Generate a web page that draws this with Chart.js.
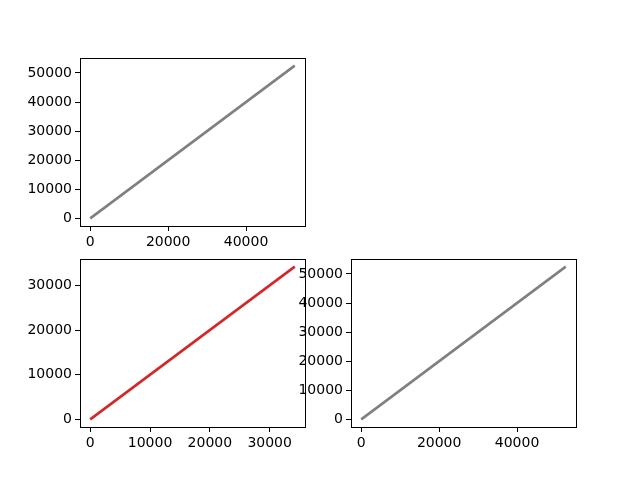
<!DOCTYPE html>
<html>
<head>
<meta charset="utf-8">
<script src="https://cdn.jsdelivr.net/npm/chart.js@4.4.0/dist/chart.umd.min.js"></script>
<style>
html, body { margin: 0; padding: 0; background: #fff; }
canvas { position: absolute; left: 0; top: 0; }
</style>
</head>
<body>
<canvas id="ax1" width="640" height="480"></canvas>
<canvas id="ax3" width="640" height="480"></canvas>
<canvas id="ax4" width="640" height="480"></canvas>
<script>
// Data (each panel is a straight line from the origin)
const topLeftX = [0, 52500];
const topLeftY = [0, 52500];
const bottomLeftX = [0, 34200];
const bottomLeftY = [0, 34200];
const bottomRightX = [0, 52500];
const bottomRightY = [0, 52500];

const ticks52k_x = [0, 20000, 40000];
const ticks52k_y = [0, 10000, 20000, 30000, 40000, 50000];
const ticks34k_x = [0, 10000, 20000, 30000];
const ticks34k_y = [0, 10000, 20000, 30000];

Chart.defaults.font.family = 'DejaVu Sans';
Chart.defaults.font.size = 14;
Chart.defaults.color = '#000';

const Y_AXIS_W = 60;
const X_AXIS_H = 30;

// draws the black box around the plot area
const framePlugin = {
    id: 'frame',
    afterDraw(chart) {
        const a = chart.chartArea;
        const ctx = chart.ctx;
        ctx.save();
        ctx.strokeStyle = '#000';
        ctx.lineWidth = 1;
        ctx.strokeRect(Math.round(a.left) + 0.5, Math.round(a.top) + 0.5,
            Math.round(a.right - a.left), Math.round(a.bottom - a.top));
        ctx.restore();
    }
};

function padRange(values) {
    const lo = Math.min(...values), hi = Math.max(...values);
    const p = (hi - lo) * 0.05;
    return [lo - p, hi + p];
}

function axisOptions(range, tickValues, isX) {
    return {
        type: 'linear',
        min: range[0],
        max: range[1],
        afterBuildTicks: (scale) => {
            scale.ticks = tickValues.map(v => ({ value: v }));
        },
        afterFit: (scale) => {
            if (isX) scale.height = X_AXIS_H;
            else scale.width = Y_AXIS_W;
        },
        border: { display: false },
        grid: {
            display: true,
            drawOnChartArea: false,
            drawTicks: true,
            tickLength: 5,
            tickWidth: 1,
            tickColor: '#000'
        },
        ticks: {
            padding: 3,
            maxRotation: 0,
            autoSkip: false,
            callback: (v) => String(v)
        }
    };
}

function makePanel(id, box, xs, ys, color, xTicks, yTicks) {
    const pts = xs.map((x, i) => ({ x: x, y: ys[i] }));
    new Chart(document.getElementById(id), {
        type: 'line',
        data: {
            datasets: [{
                data: pts,
                borderColor: color,
                borderWidth: 2.6,
                pointRadius: 0,
                fill: false,
                tension: 0
            }]
        },
        options: {
            responsive: false,
            animation: false,
            layout: {
                padding: {
                    left: box.left - Y_AXIS_W,
                    top: box.top,
                    right: 640 - box.right,
                    bottom: 480 - box.bottom - X_AXIS_H
                }
            },
            plugins: { legend: { display: false }, tooltip: { enabled: false } },
            scales: {
                x: axisOptions(padRange(xs), xTicks, true),
                y: axisOptions(padRange(ys), yTicks, false)
            }
        },
        plugins: [framePlugin]
    });
}

makePanel('ax1', { left: 80, right: 305, top: 58, bottom: 226 },
    topLeftX, topLeftY, '#808080', ticks52k_x, ticks52k_y);
makePanel('ax3', { left: 80, right: 305, top: 259, bottom: 427 },
    bottomLeftX, bottomLeftY, '#d62728', ticks34k_x, ticks34k_y);
makePanel('ax4', { left: 351, right: 576, top: 259, bottom: 427 },
    bottomRightX, bottomRightY, '#808080', ticks52k_x, ticks52k_y);
</script>
</body>
</html>
